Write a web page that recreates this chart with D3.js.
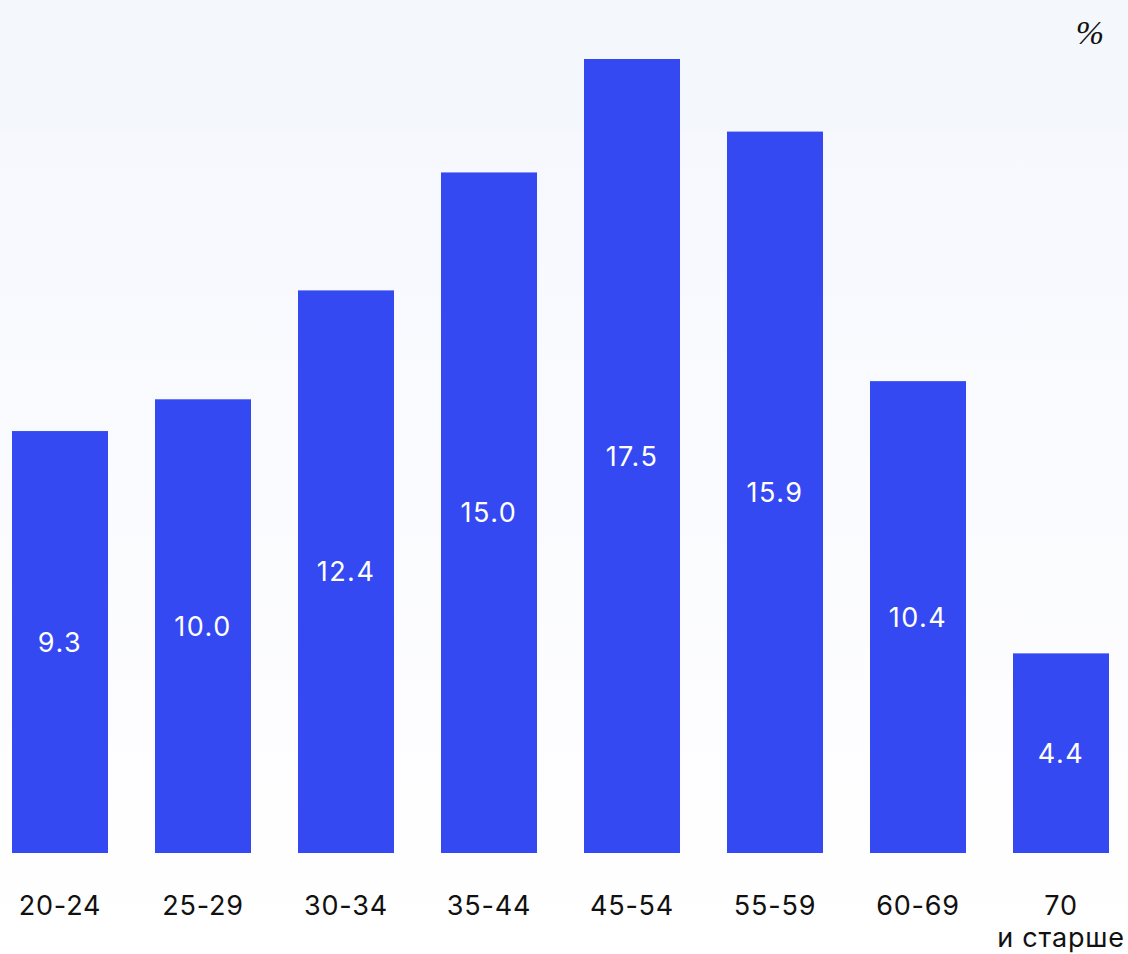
<!DOCTYPE html>
<html><head><meta charset="utf-8">
<script src="https://cdn.jsdelivr.net/npm/d3@7/dist/d3.min.js"></script>
<style>html,body{margin:0;padding:0;background:#fff;}svg{display:block;}</style>
</head><body>
<svg id="c" width="1128" height="954"></svg>
<script>
const categories = ["20-24","25-29","30-34","35-44","45-54","55-59","60-69","70\nи старше"];
const values = [9.3, 10.0, 12.4, 15.0, 17.5, 15.9, 10.4, 4.4];
const unitLabel = "%";

const svg = d3.select("#c");
const W = 1128, H = 954;
const defs = svg.append("defs");
const g = defs.append("linearGradient").attr("id","bg").attr("x1",0).attr("y1",0).attr("x2",0).attr("y2",1);
g.append("stop").attr("offset","0%").attr("stop-color","#f7f8fe");
g.append("stop").attr("offset","100%").attr("stop-color","#ffffff");
svg.append("rect").attr("x",0).attr("y",132).attr("width",W).attr("height",H-132).attr("fill","url(#bg)");
svg.append("rect").attr("x",0).attr("y",0).attr("width",W).attr("height",132).attr("fill","#f4f8fc");

const x = d3.scaleBand().domain(categories).range([12,1109]).paddingInner(47/143).paddingOuter(0);
const y = d3.scaleLinear().domain([0,17.5]).range([853,59]);

svg.selectAll("rect.bar").data(values).join("rect").attr("class","bar")
  .attr("x",(d,i)=>x(categories[i])).attr("y",d=>y(d))
  .attr("width",x.bandwidth()).attr("height",d=>y(0)-y(d)).attr("fill","#3549f3");

svg.selectAll("text.val").data(values).join("text").attr("class","val")
  .attr("x",(d,i)=>x(categories[i])+x.bandwidth()/2)
  .attr("y",d=>(y(d)+y(0))/2)
  .attr("text-anchor","middle").attr("dominant-baseline","central")
  .attr("fill","#fff").style("font-family","Inter, sans-serif").style("font-size","27px")
  .style("letter-spacing","1.5px")
  .text(d=>d.toFixed(1));

const axis = d3.axisBottom(x).tickSize(0).tickPadding(0);
const ax = svg.append("g").attr("transform","translate(0,853)").call(axis);
ax.select(".domain").remove();
ax.selectAll(".tick text").each(function(d){
  const t = d3.select(this);
  t.text(null).attr("y",0).attr("dy",null).attr("fill","#111")
   .style("font-family","Inter, sans-serif").style("font-size","27px").style("letter-spacing","0.8px");
  d.split("\n").forEach((line,i)=>{
    t.append("tspan").attr("x",0).attr("y",62+i*32).text(line);
  });
});

svg.append("text").attr("x",1104).attr("y",44).attr("text-anchor","end")
  .style("font-family","'Liberation Serif', serif").style("font-style","italic").style("font-size","34px")
  .attr("fill","#111").text(unitLabel);
</script>
</body></html>
